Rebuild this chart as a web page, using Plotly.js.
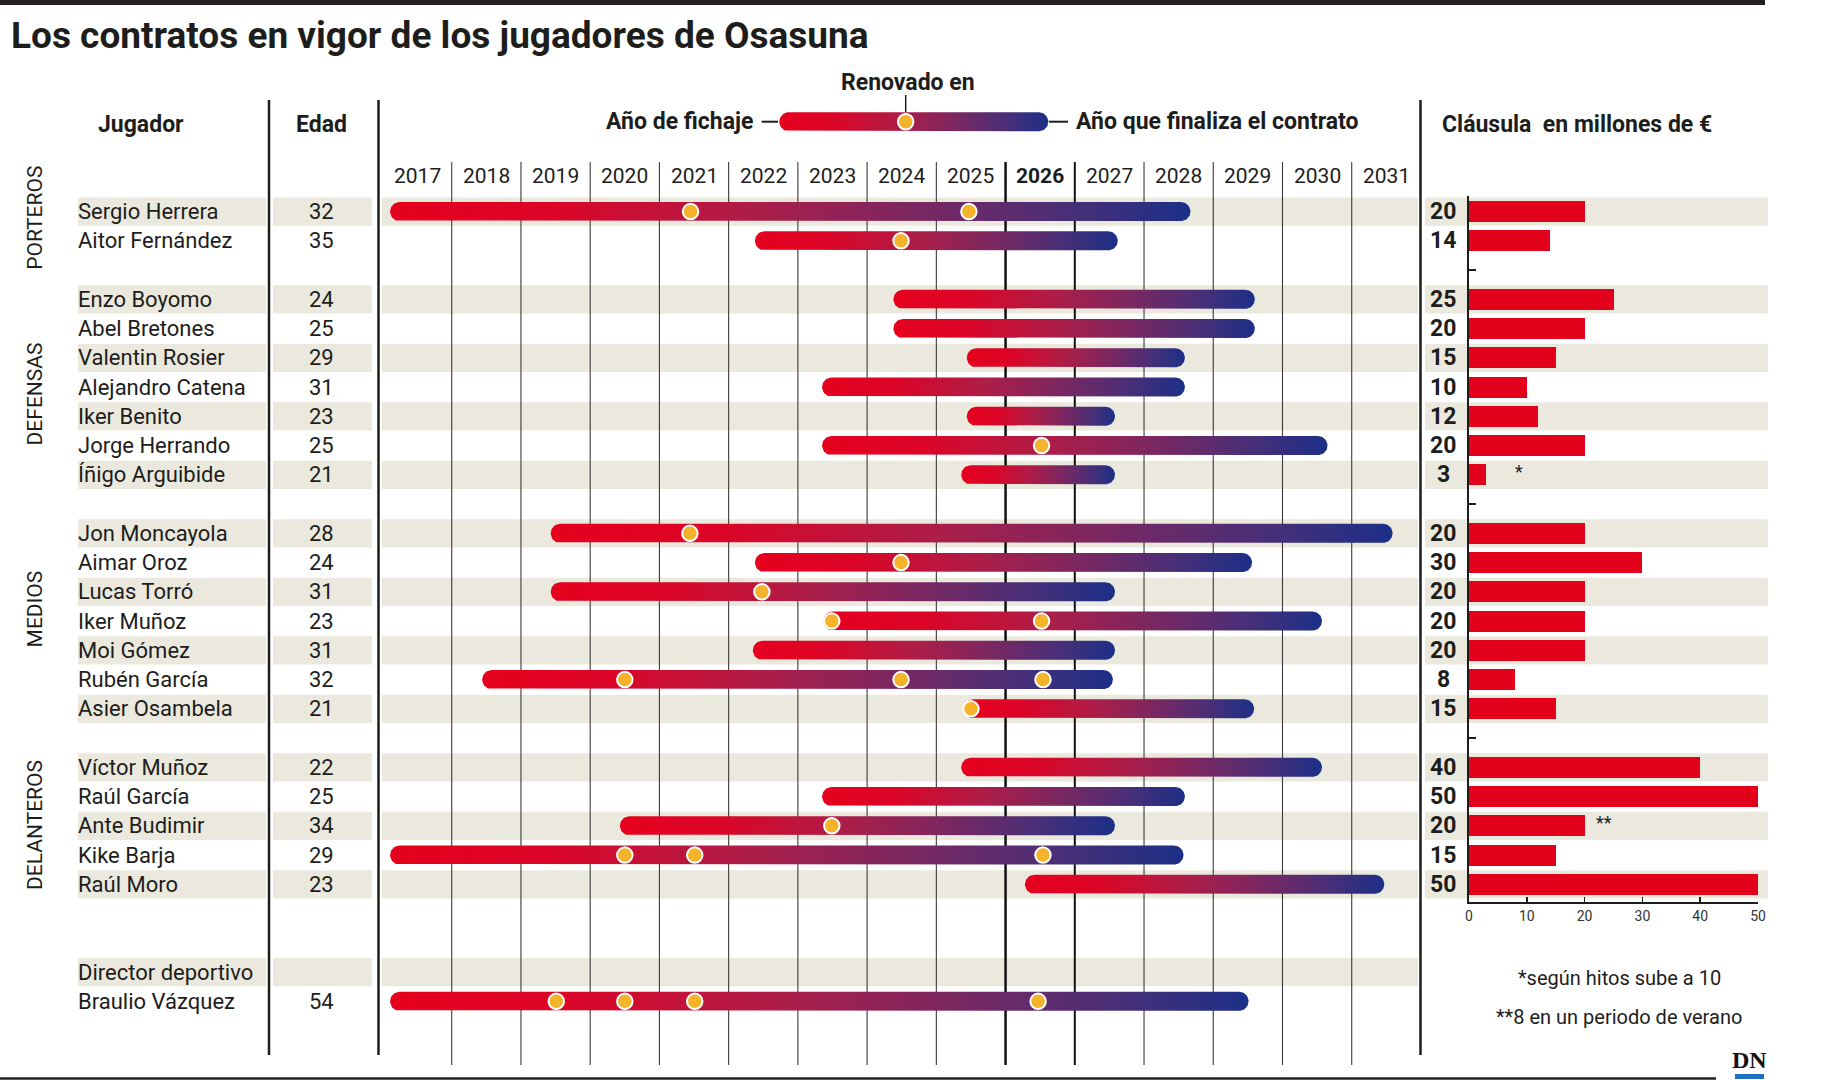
<!DOCTYPE html>
<html>
<head>
<meta charset="utf-8">
<script src="https://cdn.plot.ly/plotly-3.0.1.min.js"></script>
<style>html,body{margin:0;padding:0;background:#fff;}</style>
</head>
<body>
<div id="chart" style="width:1843px;height:1080px;"></div>
<script>
// ---------------- DATA ----------------
const jugadores = ['Sergio Herrera','Aitor Fernández','Enzo Boyomo','Abel Bretones','Valentin Rosier','Alejandro Catena','Iker Benito','Jorge Herrando','Íñigo Arguibide','Jon Moncayola','Aimar Oroz','Lucas Torró','Iker Muñoz','Moi Gómez','Rubén García','Asier Osambela','Víctor Muñoz','Raúl García','Ante Budimir','Kike Barja','Raúl Moro','Braulio Vázquez'];
const filas = [0,1,3,4,5,6,7,8,9,11,12,13,14,15,16,17,19,20,21,22,23,27];
const edades = [32,35,24,25,29,31,23,25,21,28,24,31,23,31,32,21,22,25,34,29,23,54];
// extremos de cada barra (año)
const inicio = [2017.11,2022.38,2024.38,2024.38,2025.44,2023.35,2025.44,2023.35,2025.36,2019.43,2022.38,2019.43,2023.37,2022.35,2018.44,2025.40,2025.36,2023.35,2020.43,2017.11,2026.28,2017.11];
const fin = [2028.67,2027.62,2029.60,2029.60,2028.59,2028.59,2027.58,2030.65,2027.58,2031.59,2029.56,2027.58,2030.57,2027.58,2027.55,2029.59,2030.57,2028.59,2027.58,2028.57,2031.47,2029.51];
const renovado = [[2021.45,2025.47],[2024.49],[],[],[],[],[],[2026.52],[],[2021.44],[2024.49],[2022.48],[2023.49,2026.52],[],[2020.50,2024.49,2026.54],[2025.50],[],[],[2023.49],[2020.50,2021.51,2026.54],[],[2019.51,2020.50,2021.51,2026.47]];
const clausula = [20,14,25,20,15,10,12,20,3,20,30,20,20,20,8,15,40,50,20,15,50,null];
const anios = ['2017','2018','2019','2020','2021','2022','2023','2024','2025','2026','2027','2028','2029','2030','2031'];
const posiciones = ['PORTEROS','DEFENSAS','MEDIOS','DELANTEROS'];
const posicionFila = [0.21,6.25,13.6,20.97];
const filasSombreadas = [0,3,5,7,9,11,13,15,17,19,21,23,26];
const clausulaTicks = [0,10,20,30,40,50];

// ---------------- GEOMETRY ----------------
const W = 1843, H = 1080;
const PX2017 = 382.5, PXYEAR = 69.23, ROW0 = 211.6, ROWH = 29.25;
const xFromPx = px => 2017 + (px - PX2017) / PXYEAR;
const yFromPx = py => (py - ROW0) / ROWH;
const fx = px => px / W;
const fy = py => 1 - py / H;
const FONT = 'Roboto, "Open Sans", sans-serif';
const INK = '#1d1d1b';
const GRAD = [[0,'#e6001e'],[0.2,'#dc0527'],[0.45,'#ad1d48'],[0.65,'#7c2760'],[0.85,'#482f78'],[1,'#1c2f88']];
const RED = '#e3001b';
const DOT = '#f5b22b';
const STRIPE = '#ebe9de';

function pill(x0, x1, yc, R) {
  const rx = R / PXYEAR, ry = R / ROWH;
  const xs = x0 + rx, xe = x1 - rx;
  const X = [], Y = [], N = 24;
  for (let i = 0; i <= N; i++) { const t = -Math.PI/2 + Math.PI*i/N; X.push(xe + rx*Math.cos(t)); Y.push(yc + ry*Math.sin(t)); }
  for (let i = 0; i <= N; i++) { const t = Math.PI/2 + Math.PI*i/N; X.push(xs + rx*Math.cos(t)); Y.push(yc + ry*Math.sin(t)); }
  X.push(X[0]); Y.push(Y[0]);
  return {
    type: 'scatter', mode: 'lines', x: X, y: Y, fill: 'toself',
    fillgradient: {type: 'horizontal', colorscale: GRAD, start: x0, stop: x1},
    line: {width: 0, color: 'rgba(0,0,0,0)'}, hoverinfo: 'skip', showlegend: false,
    xaxis: 'x', yaxis: 'y'
  };
}

const traces = [];
// contract bars
jugadores.forEach((j, i) => traces.push(pill(inicio[i], fin[i], filas[i], 9.5)));
// legend bar
traces.push(pill(xFromPx(779.3), xFromPx(1048.3), yFromPx(121.7), 9.5));
// renewal dots
const dx = [], dy = [];
renovado.forEach((arr, i) => arr.forEach(v => { dx.push(v); dy.push(filas[i]); }));
dx.push(xFromPx(905.7)); dy.push(yFromPx(121.7));
traces.push({type:'scatter', mode:'markers', x: dx, y: dy, xaxis:'x', yaxis:'y',
  marker:{size:15.5, color: DOT, line:{color:'#ffffff', width:2}}, hoverinfo:'skip', showlegend:false});
// clause bars
const cx = [], cy = [];
clausula.forEach((v, i) => { if (v !== null) { cx.push(v); cy.push(filas[i]); } });
traces.push({type:'bar', orientation:'h', x: cx, y: cy, xaxis:'x2', yaxis:'y2', width: 0.72,
  marker:{color: RED, line:{width:0}}, hoverinfo:'skip', showlegend:false});

// ---------------- SHAPES ----------------
const shapes = [];
// top bar & bottom rule
shapes.push({type:'rect', xref:'paper', yref:'paper', x0:0, x1:fx(1765), y0:fy(5), y1:fy(0), fillcolor:'#231f20', line:{width:0}, layer:'below'});
shapes.push({type:'line', xref:'paper', yref:'paper', x0:0, x1:fx(1716), y0:fy(1078.5), y1:fy(1078.5), line:{color:'#231f20', width:2.5}});
// stripes
const segs = [[78,266],[273,372],[382,1418],[1425,1768]];
filasSombreadas.forEach(s => {
  segs.forEach((sg, k) => {
    if (k === 3 && s > 23) return;
    shapes.push({type:'rect', xref:'paper', yref:'y', x0:fx(sg[0]), x1:fx(sg[1]), y0:s-0.484, y1:s+0.484,
      fillcolor: STRIPE, line:{width:0}, layer:'below'});
  });
});
// year grid lines
for (let yv = 2018; yv <= 2031; yv++) {
  const bold = (yv === 2026 || yv === 2027);
  shapes.push({type:'line', xref:'x', yref:'paper', x0:yv, x1:yv, y0:fy(162), y1:fy(1065),
    line:{color: bold ? '#111' : '#3a3a3a', width: yv === 2026 ? 2.5 : (bold ? 2 : 1.1)}, layer:'below'});
}
// column borders
[269, 378.5, 1420.5].forEach(px => shapes.push({type:'line', xref:'paper', yref:'paper', x0:fx(px), x1:fx(px), y0:fy(100), y1:fy(1055), line:{color:'#1d1d1b', width:2.5}, layer:'below'}));
// legend connectors
shapes.push({type:'line', xref:'paper', yref:'paper', x0:fx(905.7), x1:fx(905.7), y0:fy(95), y1:fy(112), line:{color:INK, width:1.5}});
shapes.push({type:'line', xref:'paper', yref:'paper', x0:fx(761.7), x1:fx(778), y0:fy(121.7), y1:fy(121.7), line:{color:INK, width:2}});
shapes.push({type:'line', xref:'paper', yref:'paper', x0:fx(1049), x1:fx(1068), y0:fy(121.7), y1:fy(121.7), line:{color:INK, width:2}});
// DN logo underline
shapes.push({type:'rect', xref:'paper', yref:'paper', x0:fx(1735), x1:fx(1764), y0:fy(1079), y1:fy(1074), fillcolor:'#1c6fc2', line:{width:0}});

// ---------------- ANNOTATIONS ----------------
const ann = [];
function A(o) { ann.push(Object.assign({showarrow:false, font:{family:FONT, size:22, color:INK}}, o)); }
// headers
A({text:'<b>Jugador</b>', xref:'paper', yref:'paper', x:fx(141), y:fy(124.6), xanchor:'center', yanchor:'middle', font:{family:FONT, size:23, color:INK}});
A({text:'<b>Edad</b>', xref:'paper', yref:'paper', x:fx(321), y:fy(124.6), xanchor:'center', yanchor:'middle', font:{family:FONT, size:23, color:INK}});
A({text:'<b>Cláusula \u00a0en millones de €</b>', xref:'paper', yref:'paper', x:fx(1440), y:fy(124.6), xanchor:'left', yanchor:'middle', font:{family:FONT, size:23, color:INK}});
A({text:'<b>Renovado en</b>', xref:'paper', yref:'paper', x:fx(908), y:fy(83), xanchor:'center', yanchor:'middle', font:{family:FONT, size:23, color:INK}});
A({text:'<b>Año de fichaje</b>', xref:'paper', yref:'paper', x:fx(755), y:fy(122), xanchor:'right', yanchor:'middle', font:{family:FONT, size:23, color:INK}});
A({text:'<b>Año que finaliza el contrato</b>', xref:'paper', yref:'paper', x:fx(1074), y:fy(122), xanchor:'left', yanchor:'middle', font:{family:FONT, size:23, color:INK}});
// year labels
anios.forEach(a => {
  const v = Number(a);
  A({text: a === '2026' ? '<b>'+a+'</b>' : a, xref:'x', yref:'paper', x: v + 0.5, y: fy(176), xanchor:'center', yanchor:'middle', font:{family:FONT, size:21, color:INK}});
});
// names, ages, clause values
jugadores.forEach((j, i) => {
  A({text:j, xref:'paper', yref:'y', x:fx(76), y:filas[i], xanchor:'left', yanchor:'middle'});
  A({text:String(edades[i]), xref:'paper', yref:'y', x:fx(321), y:filas[i], xanchor:'center', yanchor:'middle'});
  if (clausula[i] !== null) A({text:'<b>'+clausula[i]+'</b>', xref:'paper', yref:'y', x:fx(1443), y:filas[i], xanchor:'center', yanchor:'middle', font:{family:FONT, size:23, color:INK}});
});
A({text:'Director deportivo', xref:'paper', yref:'y', x:fx(76), y:26, xanchor:'left', yanchor:'middle'});
// positions
posiciones.forEach((p, k) => A({text:p, xref:'paper', yref:'y', x:fx(35), y:posicionFila[k], textangle:-90, xanchor:'center', yanchor:'middle', font:{family:FONT, size:21, color:INK}}));
// asterisks
A({text:'*', xref:'x2', yref:'y2', x:8.7, y:8.9, xanchor:'center', yanchor:'middle', font:{family:FONT, size:18, color:INK}});
A({text:'**', xref:'x2', yref:'y2', x:23.4, y:20.9, xanchor:'center', yanchor:'middle', font:{family:FONT, size:18, color:INK}});
// footnotes
A({text:'*según hitos sube a 10', xref:'paper', yref:'paper', x:fx(1619), y:fy(977.7), xanchor:'center', yanchor:'middle', font:{family:FONT, size:20, color:INK}});
A({text:'**8 en un periodo de verano', xref:'paper', yref:'paper', x:fx(1619), y:fy(1016.7), xanchor:'center', yanchor:'middle', font:{family:FONT, size:20, color:INK}});
// logo
A({text:'<b>DN</b>', xref:'paper', yref:'paper', x:fx(1749), y:fy(1060), xanchor:'center', yanchor:'middle', font:{family:'"Liberation Serif", "DejaVu Serif", serif', size:24, color:'#111'}});

const layout = {
  width: W, height: H,
  margin: {l:0, r:0, t:0, b:0, pad:0},
  paper_bgcolor: '#ffffff', plot_bgcolor: 'rgba(0,0,0,0)',
  showlegend: false,
  title: {text:'<b>Los contratos en vigor de los jugadores de Osasuna</b>', x: fx(11), xanchor:'left', y: fy(35), yanchor:'middle', xref:'paper', yref:'paper',
    font:{family:FONT, size:37, color:INK}},
  xaxis: {domain:[0,1], range:[xFromPx(0), xFromPx(W)], visible:false, fixedrange:true, anchor:'y'},
  yaxis: {domain:[0,1], range:[yFromPx(H), yFromPx(0)], visible:false, fixedrange:true, anchor:'x'},
  xaxis2: {domain:[fx(1469), fx(1758)], range:[0,50], anchor:'y2', showline:true, linecolor:'#1d1d1b', linewidth:2,
    ticks:'inside', ticklen:5, tickwidth:1.5, tickcolor:'#1d1d1b', tickvals: clausulaTicks, ticktext: clausulaTicks.map(String),
    tickfont:{family:FONT, size:14, color:'#333'}, showgrid:false, zeroline:false, fixedrange:true},
  yaxis2: {domain:[fy(902), fy(196)], range:[yFromPx(902), yFromPx(196)], anchor:'x2', showline:true, linecolor:'#1d1d1b', linewidth:2,
    ticks:'inside', ticklen:7, tickwidth:1.5, tickcolor:'#1d1d1b', tickvals:[2,10,18], showticklabels:false, showgrid:false, zeroline:false, fixedrange:true},
  shapes: shapes,
  annotations: ann,
  bargap: 0
};

Plotly.newPlot('chart', traces, layout, {staticPlot:true, displayModeBar:false});
</script>
</body>
</html>
